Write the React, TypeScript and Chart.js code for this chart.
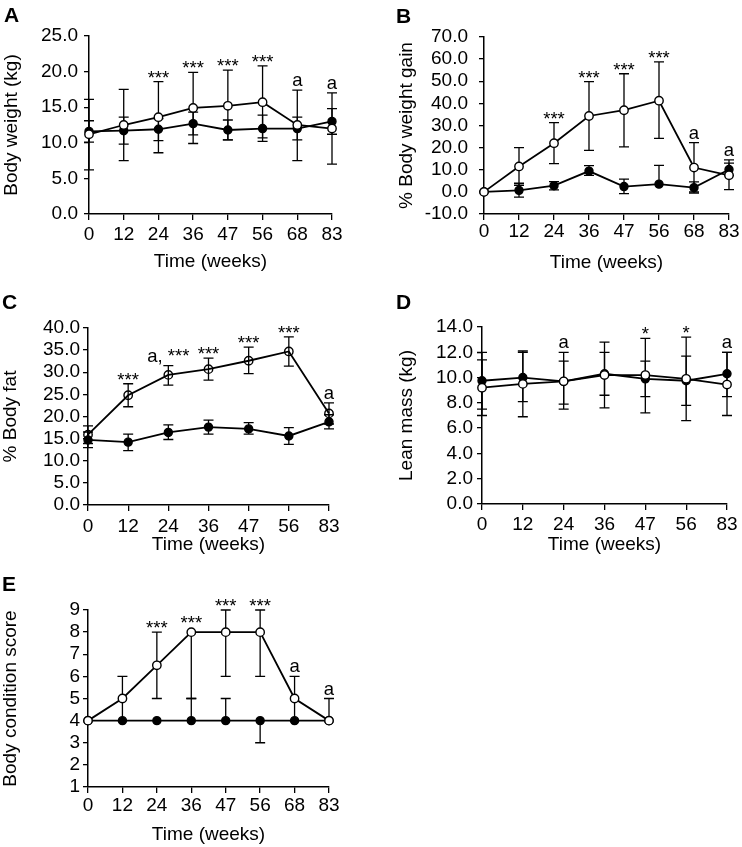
import React, { useEffect, useRef } from 'react';
import { Chart, registerables } from 'chart.js';

Chart.register(...registerables);

const FONT = '"Liberation Sans", Arial, Helvetica, sans-serif';

// ---------- categories (weeks) ----------
const weeksFull = ['0', '12', '24', '36', '47', '56', '68', '83'];
const weeksNo68 = ['0', '12', '24', '36', '47', '56', '83'];

// ---------- A: Body weight (kg) ----------
const bwOpen = [11.2, 12.5, 13.6, 14.9, 15.2, 15.7, 12.5, 12.0];
const bwOpenHi = [16.1, 17.5, 18.6, 19.9, 20.2, 20.8, 17.4, 17.0];
const bwOpenLo = [6.2, 7.5, 8.6, 9.9, 10.4, 10.7, 7.5, 7.0];
const bwFilled = [11.6, 11.7, 11.9, 12.7, 11.8, 12.0, 12.0, 13.0];
const bwFilledHi = [13.1, 13.6, 13.4, 14.3, 13.2, 13.9, 13.6, 14.8];
const bwFilledLo = [10.1, 9.8, 10.3, 11.1, 10.4, 10.2, 10.4, 11.2];
const bwMarks = ['', '', '***', '***', '***', '***', 'a', 'a'];
const bwAxis = [0, 25, 5];

// ---------- B: % Body weight gain ----------
const gainOpen = [0, 11.5, 22.0, 34.3, 36.9, 41.2, 11.0, 7.5];
const gainOpenHi = [null, 20.0, 31.3, 49.8, 53.4, 58.8, 22.3, 14.5];
const gainOpenLo = [null, 3.0, 12.8, 18.8, 20.3, 24.2, 0.0, 1.0];
const gainFilled = [0, 0.7, 2.8, 9.4, 2.4, 3.5, 1.9, 10.1];
const gainFilledHi = [null, 3.9, 4.6, 11.9, 5.8, 12.0, 4.5, 13.0];
const gainFilledLo = [null, -2.4, 0.9, 7.5, -0.8, null, -0.5, 7.4];
const gainMarks = ['', '', '***', '***', '***', '***', 'a', 'a'];
const gainAxis = [-10, 70, 10];

// ---------- C: % Body fat ----------
const fatOpen = [15.9, 24.8, 29.4, 30.7, 32.6, 34.7, 20.7];
const fatOpenHi = [17.9, 27.4, 31.5, 33.2, 35.7, 38.0, 23.1];
const fatOpenLo = [13.9, 22.2, 27.1, 28.2, 29.7, 31.4, 18.3];
const fatFilled = [14.7, 14.2, 16.4, 17.6, 17.2, 15.6, 18.8];
const fatFilledHi = [16.5, 16.0, 18.1, 19.2, 18.6, 17.5, 20.4];
const fatFilledLo = [12.95, 12.3, 14.8, 16.0, 16.0, 13.7, 17.2];
const fatMarks = ['', '***', 'a, ***', '***', '***', '***', 'a'];
const fatAxis = [0, 40, 5];

// ---------- D: Lean mass (kg) ----------
const leanOpen = [9.2, 9.5, 9.7, 10.2, 10.2, 9.9, 9.45];
const leanOpenHi = [11.4, 12.1, 12.0, 12.8, 13.1, 13.2, 12.0];
const leanOpenLo = [7.0, 6.9, 7.5, 7.6, 7.2, 6.6, 7.0];
const leanFilled = [9.75, 10.0, 9.7, 10.3, 9.9, 9.75, 10.3];
const leanFilledHi = [12.0, 12.0, 11.3, 12.0, 11.3, 11.7, 12.0];
const leanFilledLo = [7.5, 8.1, 7.9, 8.6, 8.5, 7.8, 8.5];
const leanMarks = ['', '', 'a', '', '*', '*', 'a'];
const leanAxis = [0, 14, 2];

// ---------- E: Body condition score ----------
const bcsOpen = [4, 5, 6.5, 8, 8, 8, 5, 4];
const bcsOpenHi = [null, 6, 8, null, 9, 9, 6, 5];
const bcsOpenLo = [null, 4, 5, 5, 6, 6, 4, null];
const bcsFilled = [4, 4, 4, 4, 4, 4, 4, 4];
const bcsFilledHi = [null, null, null, 5, 5, null, null, null];
const bcsFilledLo = [null, null, null, null, null, 3, null, null];
const bcsMarks = ['', '', '***', '***', '***', '***', 'a', 'a'];
const bcsAxis = [1, 9, 1];

type Series = { values: number[]; hi: (number | null)[]; lo: (number | null)[] };
type Frame = {
  left: number; top: number; w: number; h: number;
  l: number; r: number; t: number; b: number;
  yTitleX: number; xTitleY: number; yTickPad: number; xTickPad: number;
  lx: number; ly: number;
};
type PanelCfg = {
  letter: string; yTitle: string; labels: string[];
  open: Series; filled: Series; marks: string[];
  axis: number[]; decimals: number; openFill: string; frame: Frame;
};

const PANELS: PanelCfg[] = [
  {
    letter: 'A', yTitle: 'Body weight (kg)', labels: weeksFull,
    open: { values: bwOpen, hi: bwOpenHi, lo: bwOpenLo },
    filled: { values: bwFilled, hi: bwFilledHi, lo: bwFilledLo },
    marks: bwMarks, axis: bwAxis, decimals: 1, openFill: '#ffffff',
    frame: { left: 0, top: 0, w: 371, h: 280, l: 89, r: 332, t: 36, b: 214, yTitleX: 12.2, xTitleY: 262, yTickPad: 6, xTickPad: 3, lx: 4, ly: 4 },
  },
  {
    letter: 'B', yTitle: '% Body weight gain', labels: weeksFull,
    open: { values: gainOpen, hi: gainOpenHi, lo: gainOpenLo },
    filled: { values: gainFilled, hi: gainFilledHi, lo: gainFilledLo },
    marks: gainMarks, axis: gainAxis, decimals: 1, openFill: '#ffffff',
    frame: { left: 371, top: 0, w: 371, h: 280, l: 113, r: 358, t: 37, b: 214, yTitleX: 35.5, xTitleY: 262.5, yTickPad: 11, xTickPad: 0, lx: 396, ly: 4.5 },
  },
  {
    letter: 'C', yTitle: '% Body fat', labels: weeksNo68,
    open: { values: fatOpen, hi: fatOpenHi, lo: fatOpenLo },
    filled: { values: fatFilled, hi: fatFilledHi, lo: fatFilledLo },
    marks: fatMarks, axis: fatAxis, decimals: 1, openFill: 'rgba(255,255,255,0)',
    frame: { left: 0, top: 280, w: 371, h: 280, l: 88, r: 329, t: 48, b: 225, yTitleX: 10.5, xTitleY: 264.5, yTickPad: 3, xTickPad: 4, lx: 2, ly: 291 },
  },
  {
    letter: 'D', yTitle: 'Lean mass (kg)', labels: weeksNo68,
    open: { values: leanOpen, hi: leanOpenHi, lo: leanOpenLo },
    filled: { values: leanFilled, hi: leanFilledHi, lo: leanFilledLo },
    marks: leanMarks, axis: leanAxis, decimals: 1, openFill: '#ffffff',
    frame: { left: 371, top: 280, w: 371, h: 280, l: 111, r: 356, t: 47, b: 224, yTitleX: 35.5, xTitleY: 264.5, yTickPad: 4, xTickPad: 3, lx: 396, ly: 291 },
  },
  {
    letter: 'E', yTitle: 'Body condition score', labels: weeksFull,
    open: { values: bcsOpen, hi: bcsOpenHi, lo: bcsOpenLo },
    filled: { values: bcsFilled, hi: bcsFilledHi, lo: bcsFilledLo },
    marks: bcsMarks, axis: bcsAxis, decimals: 0, openFill: '#ffffff',
    frame: { left: 0, top: 560, w: 371, h: 287, l: 88, r: 329, t: 50, b: 227, yTitleX: 10.5, xTitleY: 274.5, yTickPad: 3, xTickPad: 1, lx: 2, ly: 573 },
  },
];

const TICK_FONT = 19;
const TITLE_FONT = 19;
const MARK_FONT = 18.5;
const CAP = 5;

function makeChart(canvas: HTMLCanvasElement, p: PanelCfg) {
  const f = p.frame;
  const padLeft = Math.max(0, f.yTitleX - TITLE_FONT / 2);
  const yWidth = f.l - padLeft;
  const padRight = f.w - f.r;
  const padTop = f.t;
  const xBottom = f.xTitleY + TITLE_FONT / 2;
  const padBottom = f.h - xBottom;
  const xHeight = xBottom - f.b;
  const series = [p.open, p.filled];

  const plugin = {
    id: 'errbars' + p.letter,
    beforeDatasetsDraw(chart: any) {
      const ctx = chart.ctx;
      const ys = chart.scales.y;
      ctx.save();
      ctx.strokeStyle = '#000';
      ctx.lineWidth = 1.3;
      series.forEach((s, di) => {
        const meta = chart.getDatasetMeta(di);
        s.values.forEach((v, i) => {
          const pt = meta.data[i];
          if (!pt) return;
          const x = pt.x;
          const y0 = ys.getPixelForValue(v);
          [s.hi[i], s.lo[i]].forEach((e) => {
            if (e === null || e === undefined) return;
            const y1 = ys.getPixelForValue(e);
            ctx.beginPath();
            ctx.moveTo(x, y0);
            ctx.lineTo(x, y1);
            ctx.moveTo(x - CAP, y1);
            ctx.lineTo(x + CAP, y1);
            ctx.stroke();
          });
        });
      });
      ctx.restore();
    },
    afterDatasetsDraw(chart: any) {
      const ctx = chart.ctx;
      const ys = chart.scales.y;
      const meta = chart.getDatasetMeta(0);
      ctx.save();
      ctx.fillStyle = '#000';
      ctx.font = `${MARK_FONT}px ${FONT}`;
      ctx.textAlign = 'center';
      ctx.textBaseline = 'alphabetic';
      p.marks.forEach((m, i) => {
        if (!m) return;
        const x = meta.data[i].x;
        let top = Infinity;
        series.forEach((s) => {
          top = Math.min(top, ys.getPixelForValue(s.values[i]) - 5);
          const h = s.hi[i];
          if (h !== null && h !== undefined) top = Math.min(top, ys.getPixelForValue(h));
        });
        const onlyStars = /^\*+$/.test(m);
        ctx.fillText(m, x, onlyStars ? top + 2 : top - 4);
      });
      ctx.restore();
    },
  };

  const ds = (s: Series, fill: string, r: number) => ({
    data: s.values,
    borderColor: '#000',
    borderWidth: 1.8,
    pointRadius: r,
    pointBackgroundColor: fill,
    pointBorderColor: '#000',
    pointBorderWidth: 1.4,
    fill: false,
    tension: 0,
    clip: false as any,
  });

  return new Chart(canvas, {
    type: 'line',
    data: {
      labels: p.labels,
      datasets: [ds(p.open, p.openFill, 4.2), ds(p.filled, '#000', 4)],
    },
    options: {
      animation: false,
      responsive: false,
      devicePixelRatio: 1,
      events: [],
      layout: { padding: { left: padLeft, right: padRight, top: padTop, bottom: padBottom } },
      plugins: { legend: { display: false }, tooltip: { enabled: false } },
      scales: {
        x: {
          type: 'category',
          offset: false,
          grid: { drawOnChartArea: false, drawTicks: true, tickLength: 6, color: '#000', lineWidth: 1.3 },
          border: { display: true, color: '#000', width: 1.5 },
          ticks: { color: '#000', font: { family: FONT, size: TICK_FONT }, padding: f.xTickPad, maxRotation: 0, autoSkip: false },
          title: { display: true, text: 'Time (weeks)', color: '#000', font: { family: FONT, size: TITLE_FONT, lineHeight: 1 }, padding: 0 },
          afterFit: (s: any) => { s.height = xHeight; },
        },
        y: {
          min: p.axis[0],
          max: p.axis[1],
          grid: { drawOnChartArea: false, drawTicks: true, tickLength: 5, color: '#000', lineWidth: 1.3 },
          border: { display: true, color: '#000', width: 1.5 },
          ticks: {
            stepSize: p.axis[2],
            autoSkip: false,
            color: '#000',
            font: { family: FONT, size: TICK_FONT },
            padding: f.yTickPad,
            callback: (v: any) => Number(v).toFixed(p.decimals),
          },
          title: { display: true, text: p.yTitle, color: '#000', font: { family: FONT, size: TITLE_FONT, lineHeight: 1 }, padding: 0 },
          afterFit: (s: any) => { s.width = yWidth; },
        },
      },
    } as any,
    plugins: [plugin as any],
  });
}

function Panel({ p }: { p: PanelCfg }) {
  const ref = useRef<HTMLCanvasElement>(null);
  useEffect(() => {
    if (!ref.current) return;
    const c = makeChart(ref.current, p);
    return () => c.destroy();
  }, [p]);
  const f = p.frame;
  return (
    <>
      <canvas
        ref={ref}
        width={f.w}
        height={f.h}
        style={{ position: 'absolute', left: f.left, top: f.top, width: f.w, height: f.h }}
      />
      <div
        style={{
          position: 'absolute', left: f.lx, top: f.ly, font: `bold 21px ${FONT}`,
          lineHeight: '21px', color: '#000',
        }}
      >
        {p.letter}
      </div>
    </>
  );
}

export default function App() {
  return (
    <div style={{ position: 'absolute', left: 0, top: 0, width: 742, height: 847, background: '#fff', overflow: 'hidden' }}>
      {PANELS.map((p) => (
        <Panel key={p.letter} p={p} />
      ))}
    </div>
  );
}
